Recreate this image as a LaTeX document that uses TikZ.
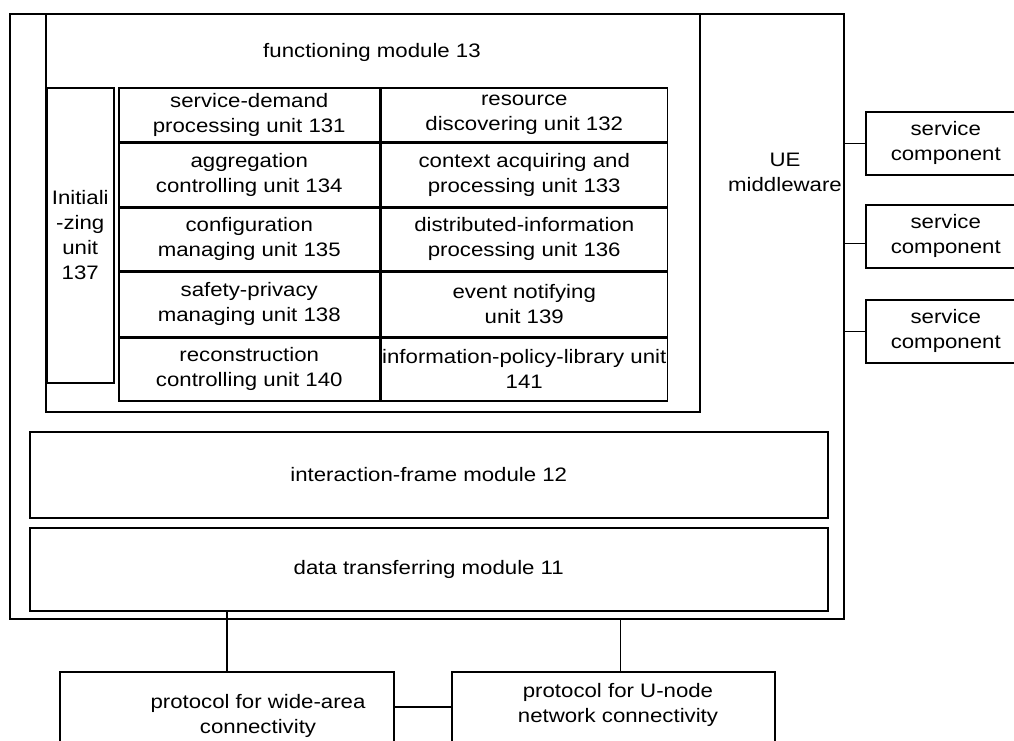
\documentclass[tikz,border=0pt]{standalone}
\usepackage{fontspec}
\setmainfont{Liberation Sans}[FakeStretch=1.14]
\usepackage{tikz}
\usetikzlibrary{positioning}
\tikzset{
 blk/.style
  = {rectangle, draw, anchor=north west, inner sep=0pt, align=center},
 cell/.style
  = {rectangle, draw, inner sep=0pt, align=center, minimum height=63},
 txt/.style
  = {inner sep=0pt, align=center},
 con/.style
  = {draw},
}

\begin{document}
\begin{tikzpicture}[x=1pt, y=-1pt, line width=1.5pt,
    every node/.style = {font=\fontsize{19.5}{25}\selectfont}]

\useasboundingbox (0,0) rectangle (1014,740);
\clip (0,0) rectangle (1014,740);

% UE middleware
\node[blk, minimum width=834, minimum height=605] (ue) at (9,13) {};
\node[txt] (uetext) at (785,172) {UE\\middleware};

% Functioning module
\node[blk, minimum width=654, minimum height=398] (func) at (45,13) {};
\node[txt] (functext) at (372,52) {functioning module 13};

% Initializing unit
\node[blk, minimum width=67, minimum height=295] (u137) at (46,87) {Initiali\\-zing\\unit\\137};

% Units, left column
\node[cell, anchor=north west, minimum width=261, minimum height=54] (u131) at (118,87)
  {service-demand\\processing unit 131};
\node[cell, minimum width=261, below=0pt of u131] (u134) {aggregation\\controlling unit 134};
\node[cell, minimum width=261, below=0pt of u134] (u135) {configuration\\managing unit 135};
\node[cell, minimum width=261, below=0pt of u135, minimum height=64] (u138) {safety-privacy\\managing unit 138};
\node[cell, minimum width=261, below=0pt of u138] (u140) {reconstruction\\controlling unit 140};

% Units, right column
\node[cell, minimum width=286, minimum height=54, right=0pt of u131] (u132) {resource\\discovering unit 132};
\node[cell, minimum width=286, right=0pt of u134] (u133) {context acquiring and\\processing unit 133};
\node[cell, minimum width=286, right=0pt of u135] (u136) {distributed-information\\processing unit 136};
\node[cell, minimum width=286, minimum height=64, right=0pt of u138] (u139) {event notifying\\unit 139};
\node[cell, minimum width=286, right=0pt of u140] (u141) {information-policy-library unit\\141};

% Interaction-frame and data transferring modules
\node[blk, minimum width=798, minimum height=86] (inter) at (29,431) {interaction-frame module 12};
\node[blk, minimum width=798, minimum height=83] (data) at (29,527) {data transferring module 11};

% Service components
\node[blk, minimum width=160, minimum height=63] (svc1) at (865,111) {service\\component};
\node[blk, minimum width=160, minimum height=63] (svc2) at (865,204) {service\\component};
\node[blk, minimum width=160, minimum height=63] (svc3) at (865,299) {service\\component};

\draw[con] (svc1.west) -- (svc1.west -| ue.east);
\draw[con] ([yshift=-7pt]svc2.west) -- ([yshift=-7pt]svc2.west -| ue.east);
\draw[con] (svc3.west) -- (svc3.west -| ue.east);

% Protocols
\node[blk, minimum width=334, minimum height=70] (wide) at (59,671) {};
\node[txt] (widetext) at (258,716) {protocol for wide-area\\connectivity};
\node[blk, minimum width=323, minimum height=70] (unode) at (451,671) {};
\node[txt] (unodetext) at (618,705) {protocol for U-node\\network connectivity};

\draw[con] (wide.north) -- (wide.north |- data.south);
\draw[con] ([xshift=7pt]unode.north) -- ([xshift=7pt]unode.north |- ue.south);
\draw[con] (wide.east) -- (unode.west);

\end{tikzpicture}
\end{document}
